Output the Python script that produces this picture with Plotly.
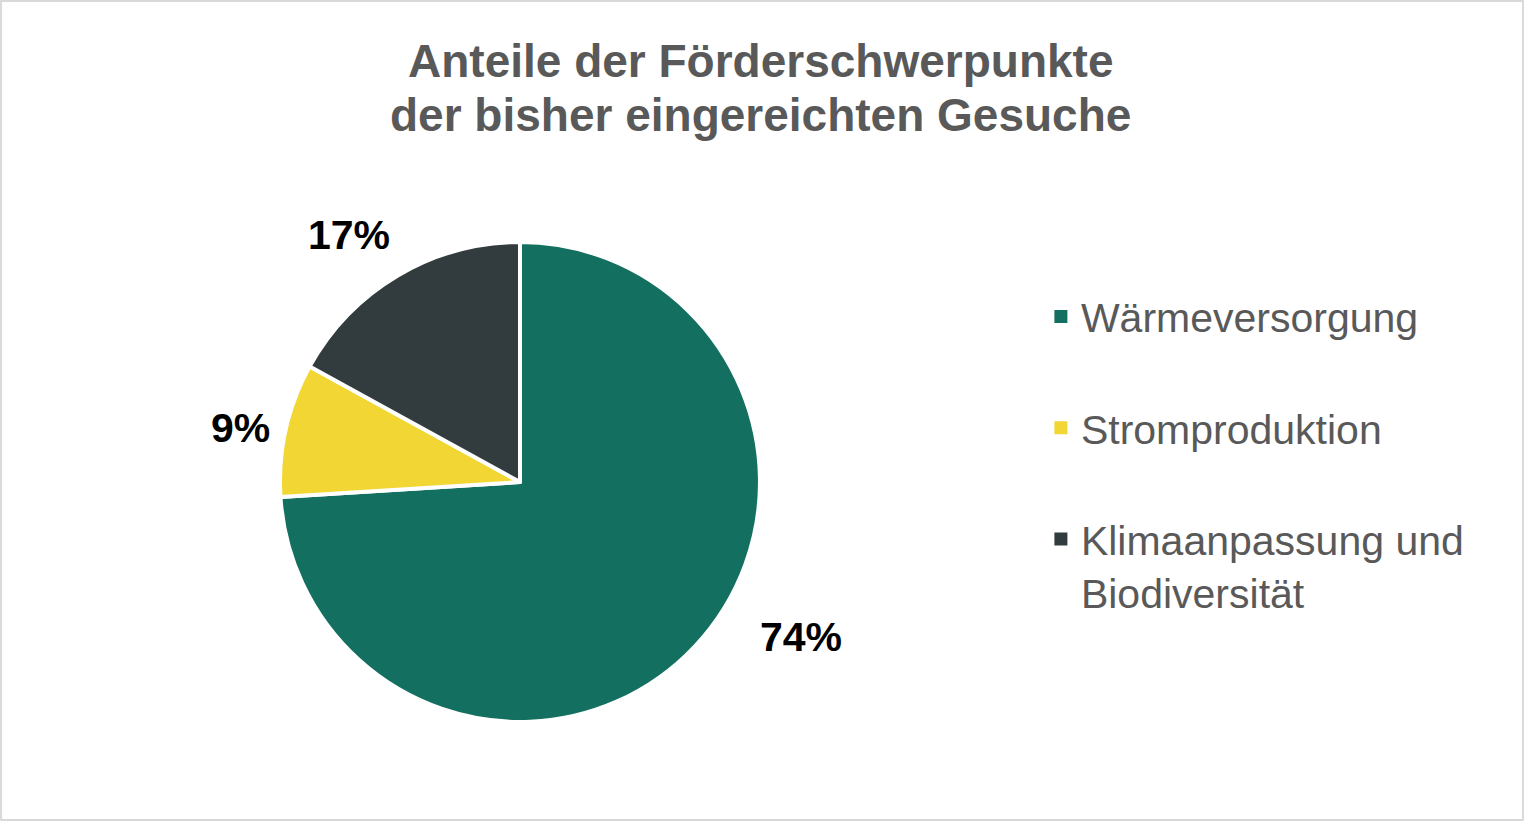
import plotly.graph_objects as go

# data
labels = ["Wärmeversorgung", "Stromproduktion", "Klimaanpassung und<br>Biodiversität"]
shares = [74, 9, 17]
colors = ["#136F5F", "#F2D634", "#323B3D"]
title_lines = ["Anteile der Förderschwerpunkte", "der bisher eingereichten Gesuche"]

# where the percent labels sit (paper coords), same order as shares
label_x = [0.5256, 0.1575, 0.229]
label_y = [0.2241, 0.4787, 0.7138]
# title line centres (paper coords)
title_y = [1 - 61 / 821, 1 - 115 / 821]

fig = go.Figure()

fig.add_trace(go.Pie(
    labels=labels,
    values=shares,
    sort=False,
    direction="clockwise",
    rotation=0,
    marker=dict(colors=colors, line=dict(color="white", width=4)),
    textinfo="none",
    hoverinfo="label+percent",
    showlegend=False,
    domain=dict(x=[0.1837, 0.4987], y=[0.1206, 0.7052]),
))

# legend entries as dummy traces, one group each so the gaps can be set
for lab, col in zip(labels, colors):
    fig.add_trace(go.Scatter(
        x=[None], y=[None],
        mode="markers",
        name=lab,
        legendgroup=lab,
        marker=dict(symbol="square", size=13, color=col),
    ))

# percent labels
for s, lx, ly in zip(shares, label_x, label_y):
    fig.add_annotation(
        x=lx, y=ly, xref="paper", yref="paper",
        text="<b>%d%%</b>" % s, showarrow=False,
        font=dict(size=41, color="#000000"),
        xanchor="center", yanchor="middle",
    )

# title, two lines set a bit tighter than plotly's own line height
for t, ty in zip(title_lines, title_y):
    fig.add_annotation(
        x=0.4993, y=ty, xref="paper", yref="paper",
        text="<b>%s</b>" % t, showarrow=False,
        font=dict(size=46, color="#595959"),
        xanchor="center", yanchor="middle",
    )

# thin frame round the chart
fig.add_shape(type="rect", xref="paper", yref="paper",
              x0=0.0007, x1=0.9993, y0=0.0012, y1=0.9988,
              line=dict(color="#D9D9D9", width=2))

fig.update_layout(
    width=1524, height=821,
    margin=dict(l=0, r=0, t=0, b=0),
    paper_bgcolor="white",
    plot_bgcolor="white",
    font=dict(family="Liberation Sans, Arial, sans-serif", color="#595959"),
    xaxis=dict(visible=False),
    yaxis=dict(visible=False),
    legend=dict(
        x=0.683, y=0.655, xanchor="left", yanchor="top",
        font=dict(size=41, color="#595959"),
        tracegroupgap=55,
        valign="top",
        itemwidth=30,
        bgcolor="rgba(0,0,0,0)",
    ),
)

fig.write_html("out.html", config={"displayModeBar": False},
               post_script="document.body.style.margin='0';")
